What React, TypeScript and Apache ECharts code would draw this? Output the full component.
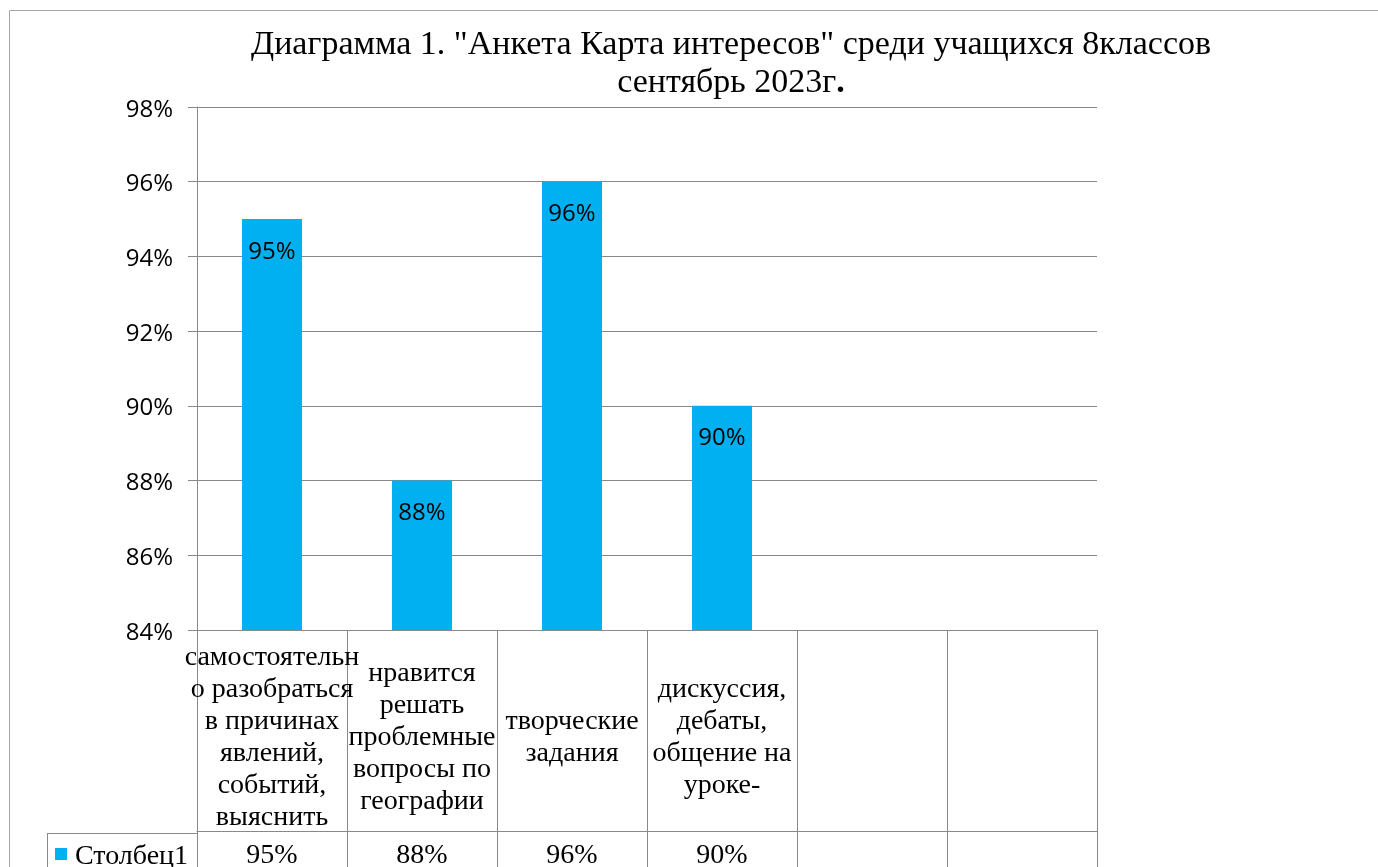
import React, { useEffect, useRef } from "react";
import * as echarts from "echarts";

const titleLine1 = 'Диаграмма 1. "Анкета Карта интересов" среди учащихся 8классов';
const titleLine2 = "сентябрь 2023г";
const seriesName = "Столбец1";
const categories = [
  "самостоятельн\nо разобраться\nв причинах\nявлений,\nсобытий,\nвыяснить",
  "нравится\nрешать\nпроблемные\nвопросы по\nгеографии",
  "творческие\nзадания",
  "дискуссия,\nдебаты,\nобщение на\nуроке-",
  "",
  "",
];
const values: (number | null)[] = [95, 88, 96, 90, null, null];
const yMin = 84;
const yMax = 98;
const yStep = 2;

const SERIF = "Liberation Serif";
const SANS = "Open Sans";
const GRID = "#898989";

export default function App() {
  const ref = useRef<HTMLDivElement>(null);
  useEffect(() => {
    if (!ref.current) return;
    const chart = echarts.init(ref.current, undefined, { renderer: "svg" });
    const valueLabels = values.map((v) => (v == null ? "" : v + "%"));
    chart.setOption({
      animation: false,
      textStyle: { fontFamily: SERIF },
      grid: { left: 197, top: 107, width: 900, height: 525, containLabel: false },
      legend: {
        data: [seriesName],
        left: 55,
        top: 840,
        padding: 0,
        icon: "rect",
        itemWidth: 12,
        itemHeight: 12,
        selectedMode: false,
        textStyle: { fontFamily: SERIF, fontSize: 28, color: "#000", padding: [0, 0, 0, 3] },
      },
      xAxis: [
        {
          type: "category",
          data: categories,
          boundaryGap: true,
          axisLine: { show: true, lineStyle: { color: GRID, width: 1 } },
          axisTick: { show: true, interval: 0, alignWithLabel: false, length: 201, lineStyle: { color: GRID, width: 1 } },
          axisLabel: {
            interval: 0,
            margin: 105,
            verticalAlign: "middle",
            lineHeight: 32,
            fontFamily: SERIF,
            fontSize: 28,
            color: "#000",
          },
        },
        {
          type: "category",
          data: valueLabels,
          position: "bottom",
          offset: 201,
          boundaryGap: true,
          axisLine: { show: true, lineStyle: { color: GRID, width: 1 } },
          axisTick: { show: true, interval: 0, alignWithLabel: false, length: 60, lineStyle: { color: GRID, width: 1 } },
          axisLabel: {
            interval: 0,
            margin: 22,
            verticalAlign: "middle",
            fontFamily: SERIF,
            fontSize: 28,
            color: "#000",
          },
        },
      ],
      yAxis: {
        type: "value",
        min: yMin,
        max: yMax,
        interval: yStep,
        axisLine: { show: true, lineStyle: { color: GRID, width: 1 } },
        axisTick: { show: true, length: 9, lineStyle: { color: GRID, width: 1 } },
        axisLabel: { formatter: "{value}%", margin: 24, fontFamily: SANS, fontSize: 24, color: "#000" },
        splitLine: { show: true, lineStyle: { color: GRID, width: 1 } },
      },
      series: [
        {
          name: seriesName,
          type: "bar",
          xAxisIndex: 0,
          data: values,
          barWidth: "40%",
          itemStyle: { color: "#00B0F0" },
          label: {
            show: true,
            position: "insideTop",
            distance: 18,
            formatter: (p: any) => (p.value == null ? "" : p.value + "%"),
            fontFamily: SANS,
            fontSize: 24,
            color: "#000",
          },
        },
      ],
      graphic: [
        {
          type: "rect",
          silent: true,
          shape: { x: 9.5, y: 10.5, width: 1500, height: 1000 },
          style: { fill: "none", stroke: "#a6a6a6", lineWidth: 1 },
        },
        {
          type: "line",
          silent: true,
          shape: { x1: 47, y1: 833.5, x2: 197, y2: 833.5 },
          style: { stroke: GRID, lineWidth: 1 },
        },
        {
          type: "line",
          silent: true,
          shape: { x1: 47.5, y1: 833, x2: 47.5, y2: 900 },
          style: { stroke: GRID, lineWidth: 1 },
        },
        {
          type: "text",
          silent: true,
          x: 731,
          y: 23,
          style: {
            text: titleLine1 + "\n" + titleLine2 + "{b|.}",
            align: "center",
            verticalAlign: "top",
            fontFamily: SERIF,
            fontSize: 34,
            lineHeight: 38,
            fill: "#000",
            rich: {
              b: { fontFamily: SERIF, fontSize: 34, fontWeight: "bold", lineHeight: 38, fill: "#000" },
            },
          },
        },
      ],
    });
    return () => chart.dispose();
  }, []);
  return (
    <div
      ref={ref}
      style={{ position: "fixed", left: 0, top: 0, width: 1378, height: 867 }}
    />
  );
}
